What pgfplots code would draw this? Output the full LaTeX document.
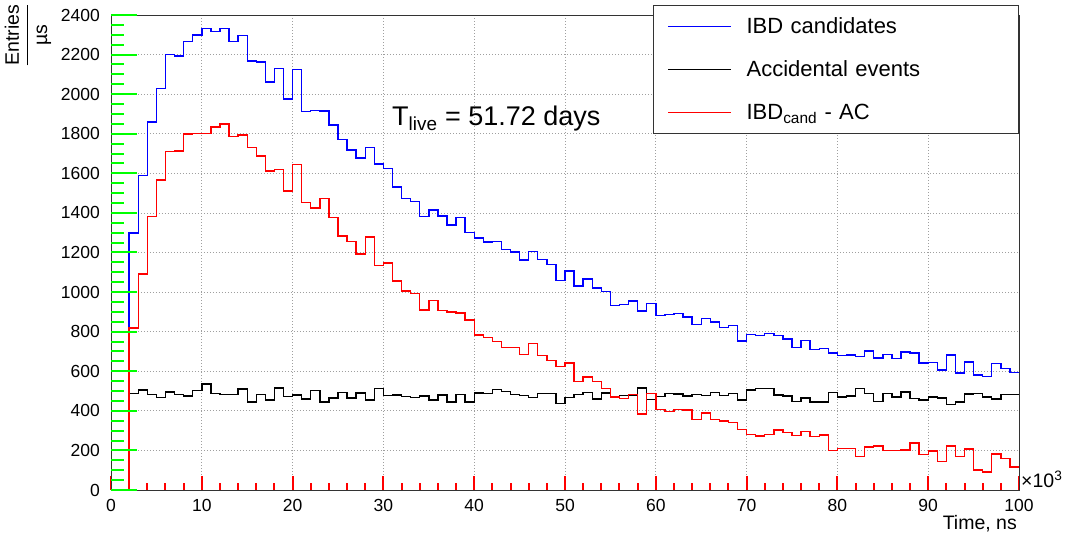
\documentclass[border=0pt]{standalone}
\usepackage{fontspec}
\setmainfont{Liberation Sans}
\usepackage{amsmath}
\usepackage{pgfplots}
\pgfplotsset{compat=1.18}
\usepackage{pgfplotstable}

\definecolor{tickgray}{RGB}{90,90,90}
\definecolor{histblue}{RGB}{0,0,255}
\definecolor{histred}{RGB}{255,0,0}

% Delayed-coincidence time spectrum, 1 us bins (bin = left edge, in units of 10^3 ns)
\pgfplotstableread{
bin  ibd   acc  diff
0    0     0    0
1    0     0    0
2    1299  487  818
3    1590  506  1091
4    1859  484  1381
5    2029  467  1566
6    2200  496  1709
7    2192  484  1713
8    2267  474  1798
9    2299  502  1802
10   2333  536  1802
11   2318  487  1834
12   2331  484  1849
13   2267  484  1787
14   2297  511  1793
15   2168  445  1729
16   2163  482  1687
17   2062  455  1612
18   2129  516  1618
19   1975  472  1511
20   2126  480  1645
21   1911  460  1453
22   1918  502  1424
23   1914  444  1472
24   1844  465  1378
25   1771  494  1283
26   1718  465  1257
27   1677  491  1192
28   1729  455  1279
29   1647  514  1135
30   1624  477  1147
31   1530  481  1056
32   1474  471  1005
33   1459  467  994
34   1383  474  910
35   1415  455  957
36   1385  481  908
37   1338  444  900
38   1378  482  894
39   1301  444  859
40   1274  491  784
41   1254  487  770
42   1255  507  750
43   1215  497  721
44   1202  482  721
45   1163  476  686
46   1205  466  741
47   1165  489  681
48   1139  489  654
49   1060  437  623
50   1106  467  642
51   1030  482  549
52   1067  494  570
53   1020  460  549
54   1002  491  514
55   933   469  469
56   936   476  462
57   955   481  484
58   904   516  383
59   943   457  487
60   882   471  408
61   886   489  398
62   891   486  408
63   875   474  405
64   835   482  355
65   867   477  390
66   849   492  356
67   822   476  349
68   832   489  341
69   753   455  306
70   787   506  281
71   780   514  272
72   792   514  279
73   781   481  304
74   763   474  291
75   719   447  274
76   755   464  297
77   709   444  270
78   716   444  277
79   692   492  200
80   679   470  210
81   682   474  210
82   676   514  169
83   702   489  218
84   667   447  223
85   685   487  200
86   664   469  200
87   697   496  203
88   692   462  237
89   642   454  178
90   645   470  198
91   607   465  143
92   682   432  223
93   592   444  170
94   647   486  208
95   582   489  101
96   573   470  91
97   640   460  181
98   615   482  160
99   595   482  116
100  595   482  116
}\histdata

\begin{document}
\begin{tikzpicture}
\useasboundingbox (-111pt,-48pt) rectangle (958pt,490pt);
\begin{axis}[
  at={(0pt,0pt)}, anchor=south west,
  scale only axis, width=908pt, height=475pt,
  xmin=0, xmax=100, ymin=0, ymax=2400,
  xtick={0,10,...,100}, ytick={0,200,...,2400},
  minor x tick num=4, minor y tick num=3,
  tick align=inside, tick pos=left,
  major tick length=14pt, minor tick length=7pt,
  scaled ticks=false,
  /pgf/number format/assume math mode=true,
  /pgf/number format/1000 sep={},
  ticklabel style={font=\fontsize{17.5}{20}\selectfont},
  xticklabel style={anchor=north, inner sep=0pt, yshift=-9pt},
  yticklabel style={anchor=east, inner sep=0pt, xshift=-11pt},
  xtick style={draw=red, line width=2pt},
  ytick style={draw=none},
  axis line style={draw=black!80, line width=0.9pt},
  grid=major,
  major grid style={draw=gray!75, line width=0.7pt, dash pattern=on 0.8pt off 2.2pt},
  no markers,
  legend style={at={(rel axis cs:1,1.02105)}, anchor=north east,
    draw=black!80, line width=0.8pt, fill=white,
    inner xsep=14pt, inner ysep=0pt, column sep=15pt, row sep=0pt,
    font=\fontsize{22}{26}\selectfont,
    nodes={inner sep=0pt, minimum height=42.7pt, text width=258pt, align=left}},
  legend image code/.code={\draw[#1, line width=1pt] (0pt,0pt) -- (63pt,0pt);},
  legend cell align=left,
]
\addplot[const plot mark left, histblue, line width=1.4pt]
  table[x=bin, y=ibd] {\histdata};
\addlegendentry{IBD candidates}
\addplot[const plot mark left, black, line width=1.4pt]
  table[x=bin, y=acc] {\histdata};
\addlegendentry{Accidental events}
\addplot[const plot mark left, histred, line width=1.4pt]
  table[x=bin, y=diff] {\histdata};
\addlegendentry{IBD\textsubscript{cand} - AC}

\node[anchor=base west, font=\fontsize{27}{30}\selectfont, inner sep=0pt]
  at (rel axis cs:0.3095,0.768) {T\textsubscript{live} = 51.72 days};
\end{axis}
% the y-axis ticks are longer than the x-axis ones: drawn by an overlaid axis
\begin{axis}[
  at={(0pt,0pt)}, anchor=south west,
  scale only axis, width=908pt, height=475pt,
  xmin=0, xmax=100, ymin=0, ymax=2400,
  xtick=\empty, ytick={0,200,...,2400}, yticklabels={},
  minor y tick num=3,
  tick align=inside, tick pos=left,
  major tick length=26pt, minor tick length=13pt,
  ytick style={draw=green, line width=2pt},
  axis line style={draw=none},
]
\end{axis}
\node[anchor=base west, font=\fontsize{19.5}{22}\selectfont, inner sep=0pt]
  at (910pt,2pt) {×10\textsuperscript{3}};
\node[rotate=90, font=\fontsize{19.5}{22}\selectfont, inner sep=0pt]
  at (-83pt,455pt) {$\displaystyle\frac{\text{Entries}}{\text{µs}}$};
\node[anchor=base east, font=\fontsize{19.5}{22}\selectfont, inner sep=0pt]
  at (906pt,-40pt) {Time, ns};
\end{tikzpicture}
\end{document}
